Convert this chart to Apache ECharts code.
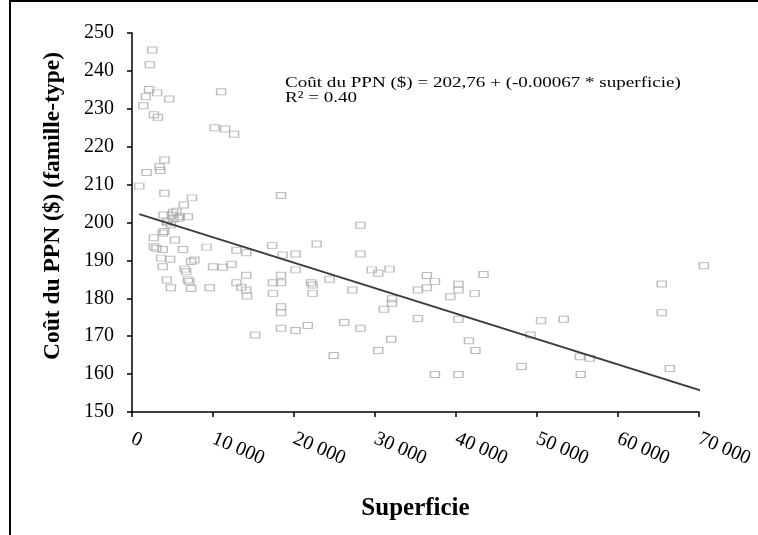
<!DOCTYPE html>
<html>
<head>
<meta charset="utf-8">
<script src="https://cdn.jsdelivr.net/npm/echarts@6/dist/echarts.min.js"></script>
<style>
html,body{margin:0;padding:0;background:#fff;}
#chart{width:758px;height:535px;}
</style>
</head>
<body>
<div id="chart"></div>
<script>
// Superficie (x) values of the observations
var superficie = [
  2500,2200,2100,3100,1700,4600,1400,2700,3200,11000,10200,11500,12600,
  4000,3400,3500,1800,900,4000,7400,6400,5500,5100,
  3900,4900,5900,6900,4300,5100,5700,4400,4800,
  4000,3800,2700,5300,2700,3000,3800,6300,9200,12900,14100,
  3600,4700,7300,7700,3800,10000,11200,12300,6500,6700,14100,
  4300,6900,7100,12900,13500,14100,14200,4800,9600,7300,15200,
  18400,28200,17300,22800,18600,20200,28200,20200,18400,29600,30400,31800,
  17400,18400,17400,22100,22300,22300,24400,27200,
  18400,18400,18400,20200,21700,26200,28200,24900,30400,32000,32100,32100,31100,
  35300,36400,37400,36400,40300,40300,39300,42300,43400,35300,40300,37400,40300,
  41600,42400,48100,50500,53300,49200,55300,56500,55400,65400,65400,66400,70600
];
// Coût du PPN ($) values of the observations
var cout = [
  245.5,241.6,235.1,234.2,233.2,232.6,230.8,228.4,227.8,234.5,225.0,224.7,223.3,
  216.5,214.7,213.7,213.2,209.6,207.7,206.5,204.6,203.0,202.7,
  202.0,202.0,201.5,201.5,200.2,200.9,201.1,199.9,199.4,
  197.6,197.2,196.0,195.4,193.6,193.2,192.9,192.9,193.5,192.7,192.0,
  190.6,190.3,189.7,190.1,188.3,188.3,188.2,189.0,187.7,187.0,186.1,
  184.8,184.8,184.4,184.1,182.9,182.2,180.6,182.8,182.8,182.6,170.3,
  207.1,199.3,193.9,194.3,191.4,191.7,191.7,187.5,186.1,187.5,186.6,187.7,
  184.1,184.1,181.3,184.1,183.5,181.3,185.0,182.2,
  177.8,176.2,172.1,171.5,172.8,173.6,172.1,164.9,166.2,169.2,179.9,178.7,177.1,
  182.2,182.8,184.4,186.0,183.7,182.2,180.4,181.3,186.3,174.7,174.5,159.9,159.9,
  168.8,166.2,162.0,174.1,174.5,170.3,164.6,164.2,159.9,183.8,176.2,161.5,188.6
];
// Regression line end points
var lineX = [900, 70600];
var lineY = [202.2, 155.4];
// Tick labels
var xTickLabels = ['0','10 000','20 000','30 000','40 000','50 000','60 000','70 000'];
var yTickLabels = ['150','160','170','180','190','200','210','220','230','240','250'];

var scatterData = superficie.map(function(x,i){return [x,cout[i]];});
var lineData = lineX.map(function(x,i){return [x,lineY[i]];});

var SERIF = '"Liberation Serif","Times New Roman",serif';
var chart = echarts.init(document.getElementById('chart'), null, {renderer:'canvas'});
chart.setOption({
  animation:false,
  backgroundColor:'#fff',
  grid:{left:132,right:59,top:33,bottom:123},
  xAxis:{
    type:'value',min:0,max:70000,interval:10000,
    name:'Superficie',nameLocation:'middle',nameGap:84,
    nameTextStyle:{fontFamily:SERIF,fontWeight:'bold',fontSize:25,color:'#000'},
    axisLine:{show:true,onZero:false,lineStyle:{color:'#000',width:1.5}},
    axisTick:{show:true,inside:false,length:5,lineStyle:{color:'#000',width:1.5}},
    splitLine:{show:false},
    axisLabel:{rotate:-23,margin:26,fontFamily:SERIF,fontSize:20,color:'#000',
      showMinLabel:true,showMaxLabel:true,
      formatter:function(v){return xTickLabels[Math.round(v/10000)];}}
  },
  yAxis:{
    type:'value',min:150,max:250,interval:10,
    name:'Coût du PPN ($) (famille-type)',nameLocation:'middle',nameGap:67,
    nameTextStyle:{fontFamily:SERIF,fontWeight:'bold',fontSize:23.5,color:'#000',padding:[0,0,0,33]},
    axisLine:{show:true,onZero:false,lineStyle:{color:'#000',width:1.5}},
    axisTick:{show:true,inside:false,length:5,lineStyle:{color:'#000',width:1.5}},
    splitLine:{show:false},
    axisLabel:{margin:18,fontFamily:SERIF,fontSize:20,color:'#000',
      showMinLabel:true,showMaxLabel:true,
      formatter:function(v){return yTickLabels[Math.round((v-150)/10)];}}
  },
  graphic:[
    {type:'rect',shape:{x:10,y:1,width:800,height:600},
     style:{fill:'none',stroke:'#000',lineWidth:2},silent:true},
    {type:'text',x:285,y:76,scaleX:1.23,
     style:{x:0,y:0,text:'Coût du PPN ($) = 202,76 + (-0.00067 * superficie)\nR² = 0.40',
       font:'15.5px '+SERIF,fill:'#000',lineHeight:14.5}}
  ],
  series:[
    {type:'scatter',data:scatterData,symbol:'rect',symbolSize:[9,6],clip:false,
     itemStyle:{color:'rgba(0,0,0,0)',borderColor:'#ababab',borderWidth:1.2},z:2},
    {type:'line',data:lineData,showSymbol:false,symbol:'none',clip:false,
     lineStyle:{color:'#3c3c3c',width:2},z:3}
  ]
});
</script>
</body>
</html>
